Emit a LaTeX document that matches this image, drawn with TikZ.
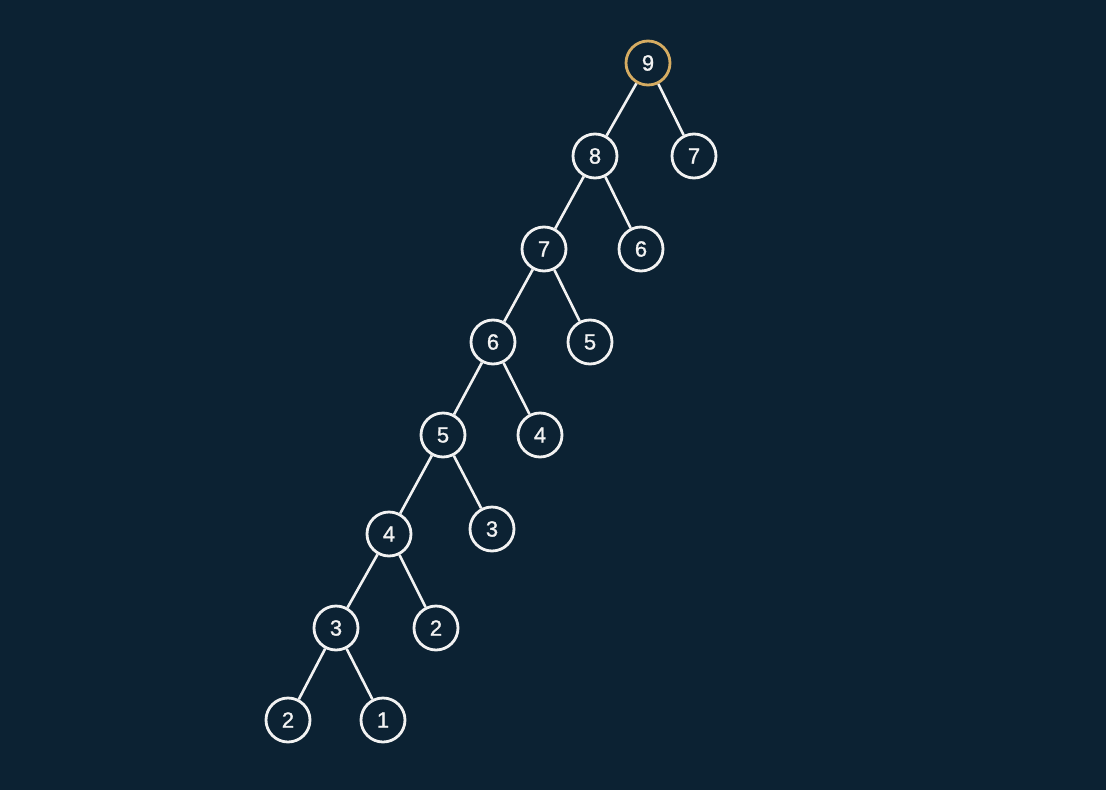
\documentclass[tikz,border=0pt]{standalone}
\usepackage{fontspec}
\setmainfont{Liberation Sans}
\newfontfamily\ndfont[FakeBold=1.2]{Liberation Sans}
\definecolor{bg}{HTML}{0C2233}
\definecolor{gold}{HTML}{D6AC62}
\definecolor{fg}{HTML}{F2F2F2}
\begin{document}
\begin{tikzpicture}[x=1pt,y=-1pt,
  nd/.style={circle,draw=fg,line width=2.8pt,minimum size=44pt,inner sep=0pt,text=fg,font=\ndfont\fontsize{22}{22}\selectfont},
  rootnd/.style={nd,draw=gold},
  edge/.style={draw=fg,line width=2.6pt}]
\fill[bg] (0,0) rectangle (1106,790);
\useasboundingbox (0,0) rectangle (1106,790);
\node[rootnd] (n9) at (648,63) {9};
\node[nd] (n8) at (595,156) {8};
\node[nd] (r7) at (694,156) {7};
\node[nd] (n7) at (544,249) {7};
\node[nd] (r6) at (641,249) {6};
\node[nd] (n6) at (493,342) {6};
\node[nd] (r5) at (590,342) {5};
\node[nd] (n5) at (443,435) {5};
\node[nd] (r4) at (540,435) {4};
\node[nd] (n4) at (389,534) {4};
\node[nd] (r3) at (492,529) {3};
\node[nd] (n3) at (336,628) {3};
\node[nd] (r2) at (436,628) {2};
\node[nd] (n2) at (288,720) {2};
\node[nd] (r1) at (383,720) {1};
\draw[edge] (n9) -- (n8); \draw[edge] (n9) -- (r7);
\draw[edge] (n8) -- (n7); \draw[edge] (n8) -- (r6);
\draw[edge] (n7) -- (n6); \draw[edge] (n7) -- (r5);
\draw[edge] (n6) -- (n5); \draw[edge] (n6) -- (r4);
\draw[edge] (n5) -- (n4); \draw[edge] (n5) -- (r3);
\draw[edge] (n4) -- (n3); \draw[edge] (n4) -- (r2);
\draw[edge] (n3) -- (n2); \draw[edge] (n3) -- (r1);
\end{tikzpicture}
\end{document}
